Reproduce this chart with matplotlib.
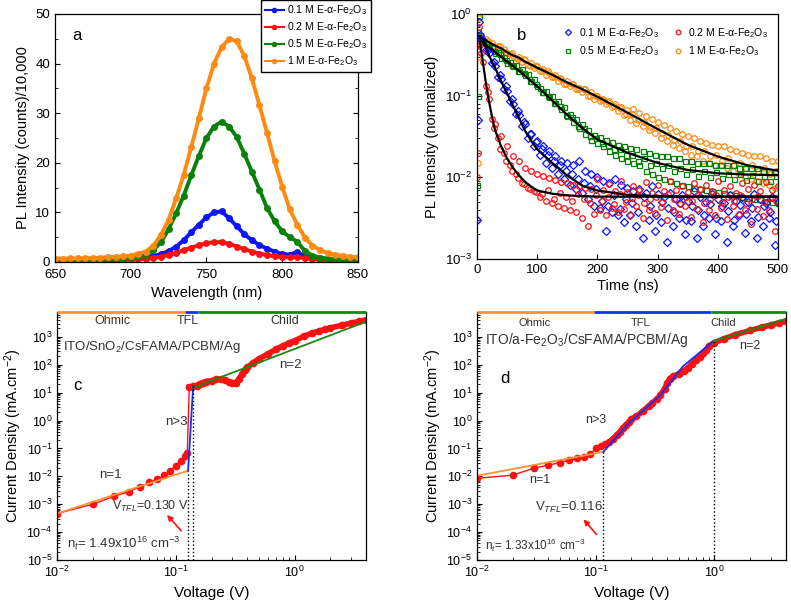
import numpy as np
import matplotlib.pyplot as plt
from matplotlib.ticker import LogLocator, MultipleLocator, NullFormatter

plt.rcParams['font.family'] = ['Liberation Sans', 'DejaVu Sans']
plt.rcParams['mathtext.fontset'] = 'custom'
plt.rcParams['mathtext.rm'] = 'Liberation Sans'
plt.rcParams['mathtext.it'] = 'Liberation Sans:italic'
plt.rcParams['mathtext.bf'] = 'Liberation Sans:bold'
plt.rcParams['xtick.direction'] = 'in'
plt.rcParams['ytick.direction'] = 'in'
plt.rcParams['axes.linewidth'] = 0.9

BLUE = '#0a14ff'
RED = '#ff1010'
GREEN = '#08800a'
ORANGE = '#ff8a12'

labels = ['0.1 M E-α-Fe$_2$O$_3$', '0.2 M E-α-Fe$_2$O$_3$',
          '0.5 M E-α-Fe$_2$O$_3$', '1 M E-α-Fe$_2$O$_3$']

# ---- panel a : steady state PL (counts / 10,000) ----
wavelength = np.arange(650, 851, 5)
pl_01 = [0.30, 0.30, 0.30, 0.32, 0.34, 0.36, 0.40, 0.44, 0.50, 0.58,
         0.70, 0.80, 0.95, 1.2, 1.6, 2.2, 3.1, 4.4, 6.0, 7.5,
         9.0, 10.0, 10.2, 8.8, 7.2, 5.6, 4.4, 3.4, 2.7, 2.1,
         1.6, 1.5, 2.0, 1.1, 0.8, 0.6, 0.5, 0.4, 0.4, 0.35, 0.35]
pl_02 = [0.20, 0.20, 0.20, 0.21, 0.22, 0.24, 0.26, 0.30, 0.34, 0.40,
         0.50, 0.55, 0.70, 0.85, 1.1, 1.4, 1.8, 2.4, 2.9, 3.4,
         3.8, 4.0, 4.0, 3.7, 3.1, 2.6, 2.1, 1.7, 1.4, 1.15,
         1.0, 0.95, 0.95, 0.8, 0.6, 0.5, 0.45, 0.4, 0.35, 0.3, 0.3]
pl_05 = [0.40, 0.40, 0.40, 0.42, 0.45, 0.50, 0.55, 0.62, 0.72, 0.85,
         1.0, 1.2, 1.5, 2.4, 4.0, 6.6, 9.8, 13.4, 17.5, 21.4,
         25.0, 27.3, 28.3, 27.3, 25.2, 21.8, 18.2, 14.6, 10.9, 8.2,
         6.2, 5.0, 4.1, 2.2, 1.3, 0.9, 0.7, 0.55, 0.5, 0.45, 0.45]
pl_1 = [0.70, 0.70, 0.72, 0.74, 0.77, 0.80, 0.86, 0.95, 1.05, 1.15,
        1.3, 1.7, 2.1, 3.3, 5.5, 8.5, 12.8, 17.6, 23.2, 29.0,
        35.0, 40.0, 43.3, 45.0, 44.5, 41.5, 37.0, 31.6, 26.0, 20.3,
        15.2, 10.6, 7.5, 4.9, 3.3, 2.4, 1.8, 1.45, 1.2, 1.05, 0.95]

# ---- panel b : TRPL, normalized ----
# first sweep: rising edge + every 5 ns
t_rise = [0, 1, 2, 3]
t_decay = list(range(5, 501, 5))
tr_01 = [0.003, 0.05, 0.5, 0.8,
         0.55, 0.48, 0.36, 0.33, 0.25, 0.23, 0.17, 0.16, 0.12, 0.115,
         0.085, 0.08, 0.06, 0.058, 0.042, 0.045, 0.030, 0.034, 0.024, 0.028,
         0.019, 0.024, 0.015, 0.021, 0.013, 0.018, 0.011, 0.016, 0.0095, 0.015,
         0.008, 0.014, 0.0072, 0.016, 0.0065, 0.012, 0.0055, 0.011, 0.0045, 0.010,
         0.0042, 0.009, 0.0022, 0.0085, 0.0038, 0.0095, 0.0035, 0.008, 0.0028, 0.0075,
         0.0035, 0.0068, 0.0025, 0.0072, 0.0018, 0.0065, 0.003, 0.0078, 0.0022, 0.0062,
         0.0028, 0.0058, 0.0016, 0.0065, 0.0025, 0.0055, 0.0032, 0.0060, 0.0020, 0.0052,
         0.0029, 0.0068, 0.0018, 0.0058, 0.0025, 0.0050, 0.0032, 0.0062, 0.0020, 0.0055,
         0.0029, 0.0048, 0.0016, 0.0060, 0.0025, 0.0052, 0.0035, 0.0058, 0.0021, 0.0050,
         0.0029, 0.0062, 0.0018, 0.0055, 0.0025, 0.0048, 0.0032, 0.0058, 0.0015, 0.0050]
tr_02 = [0.01, 0.02, 0.4, 0.7,
         0.42, 0.26, 0.13, 0.09, 0.052, 0.045, 0.030, 0.032, 0.020, 0.024,
         0.014, 0.018, 0.011, 0.016, 0.0085, 0.013, 0.0075, 0.012, 0.0068, 0.011,
         0.0058, 0.0105, 0.0052, 0.0098, 0.0048, 0.0092, 0.0045, 0.0088, 0.0042, 0.0085,
         0.0040, 0.0080, 0.0038, 0.0078, 0.0032, 0.0075, 0.0025, 0.0072, 0.0036, 0.0095,
         0.0040, 0.0070, 0.0035, 0.0082, 0.0042, 0.0068, 0.0038, 0.0090, 0.0041, 0.0066,
         0.0035, 0.0078, 0.0044, 0.0070, 0.0032, 0.0088, 0.0040, 0.0065, 0.0037, 0.0080,
         0.0043, 0.0068, 0.0030, 0.0090, 0.0040, 0.0070, 0.0036, 0.0078, 0.0045, 0.0066,
         0.0033, 0.0085, 0.0041, 0.0072, 0.0028, 0.0080, 0.0040, 0.0068, 0.0035, 0.0090,
         0.0042, 0.0070, 0.0031, 0.0078, 0.0045, 0.0065, 0.0036, 0.0085, 0.0040, 0.0072,
         0.0027, 0.0080, 0.0041, 0.0068, 0.0034, 0.0088, 0.0040, 0.0070, 0.0022, 0.0078]
tr_05 = [0.008, 0.1, 0.6, 0.95,
         0.55, 0.45, 0.44, 0.38, 0.39, 0.33, 0.34, 0.29, 0.30, 0.25,
         0.26, 0.23, 0.24, 0.20, 0.21, 0.18, 0.185, 0.15, 0.16, 0.13,
         0.125, 0.11, 0.115, 0.095, 0.10, 0.082, 0.085, 0.068, 0.072, 0.056,
         0.060, 0.048, 0.052, 0.040, 0.045, 0.034, 0.038, 0.029, 0.033, 0.026,
         0.031, 0.024, 0.029, 0.021, 0.027, 0.019, 0.025, 0.017, 0.024, 0.016,
         0.023, 0.015, 0.022, 0.014, 0.021, 0.012, 0.020, 0.011, 0.019, 0.010,
         0.018, 0.0095, 0.018, 0.009, 0.017, 0.0085, 0.017, 0.008, 0.016, 0.0078,
         0.016, 0.0075, 0.015, 0.0072, 0.015, 0.007, 0.015, 0.0068, 0.014, 0.0066,
         0.014, 0.0064, 0.014, 0.0062, 0.014, 0.006, 0.013, 0.0058, 0.013, 0.0056,
         0.013, 0.0055, 0.013, 0.0054, 0.012, 0.0052, 0.012, 0.005, 0.012, 0.0048]
tr_1 = [0.003, 0.015, 0.3, 0.9,
        0.52, 0.47, 0.49, 0.43, 0.44, 0.39, 0.40, 0.36, 0.37, 0.33,
        0.32, 0.31, 0.29, 0.30, 0.26, 0.27, 0.24, 0.25, 0.22, 0.23,
        0.20, 0.21, 0.18, 0.19, 0.17, 0.18, 0.15, 0.16, 0.14, 0.15,
        0.13, 0.14, 0.12, 0.125, 0.11, 0.12, 0.10, 0.11, 0.092, 0.10,
        0.085, 0.09, 0.078, 0.085, 0.072, 0.078, 0.065, 0.072, 0.058, 0.066,
        0.050, 0.068, 0.046, 0.062, 0.042, 0.057, 0.038, 0.052, 0.035, 0.048,
        0.030, 0.044, 0.028, 0.040, 0.025, 0.037, 0.023, 0.034, 0.021, 0.032,
        0.019, 0.030, 0.018, 0.028, 0.016, 0.026, 0.015, 0.025, 0.014, 0.024,
        0.014, 0.024, 0.013, 0.022, 0.012, 0.021, 0.011, 0.020, 0.010, 0.019,
        0.0095, 0.018, 0.009, 0.018, 0.0085, 0.017, 0.008, 0.016, 0.0075, 0.016]

# second sweep, offset by 2.5 ns, every 10 ns
t_mid = [7.5 + 10 * k for k in range(50)]
mid_01 = [0.50, 0.36, 0.26, 0.18, 0.13, 0.09, 0.065, 0.048, 0.034, 0.027,
          0.022, 0.019, 0.016, 0.014, 0.012, 0.011, 0.0095, 0.0085, 0.0078, 0.0072,
          0.0052, 0.0045, 0.0060, 0.0041, 0.0055, 0.0048, 0.0038, 0.0058, 0.0044, 0.0035,
          0.0050, 0.0042, 0.0038, 0.0048, 0.0030, 0.0045, 0.0040, 0.0035, 0.0047, 0.0032,
          0.0044, 0.0039, 0.0030, 0.0046, 0.0036, 0.0042, 0.0033, 0.0045, 0.0038, 0.0029]
mid_02 = [0.33, 0.11, 0.040, 0.022, 0.016, 0.012, 0.0098, 0.0082, 0.0072, 0.0066,
          0.0062, 0.0070, 0.0055, 0.0064, 0.0058, 0.0052, 0.0062, 0.0055, 0.0048, 0.0060,
          0.0052, 0.0058, 0.0047, 0.0062, 0.0050, 0.0056, 0.0060, 0.0049, 0.0054, 0.0058,
          0.0050, 0.0062, 0.0054, 0.0047, 0.0058, 0.0052, 0.0060, 0.0049, 0.0055, 0.0061,
          0.0050, 0.0057, 0.0052, 0.0060, 0.0048, 0.0055, 0.0059, 0.0050, 0.0056, 0.0052]
mid_05 = [0.47, 0.41, 0.35, 0.32, 0.27, 0.24, 0.20, 0.19, 0.15, 0.14,
          0.11, 0.10, 0.082, 0.074, 0.058, 0.054, 0.043, 0.040, 0.032, 0.030,
          0.026, 0.025, 0.022, 0.022, 0.019, 0.019, 0.016, 0.017, 0.014, 0.015,
          0.013, 0.014, 0.012, 0.013, 0.011, 0.0125, 0.0105, 0.012, 0.010, 0.0115,
          0.0098, 0.011, 0.0095, 0.011, 0.0092, 0.0108, 0.009, 0.0105, 0.009, 0.0105]
mid_1 = [0.50, 0.47, 0.41, 0.40, 0.34, 0.33, 0.28, 0.28, 0.23, 0.23,
         0.20, 0.20, 0.17, 0.165, 0.14, 0.14, 0.12, 0.12, 0.10, 0.10,
         0.088, 0.083, 0.074, 0.071, 0.060, 0.059, 0.050, 0.048, 0.041, 0.040,
         0.035, 0.033, 0.029, 0.028, 0.024, 0.024, 0.021, 0.021, 0.018, 0.019,
         0.016, 0.017, 0.014, 0.015, 0.013, 0.014, 0.012, 0.013, 0.011, 0.012]

# fitted decay curves
t_fit = [5, 10, 15, 20, 25, 30, 40, 50, 60, 70, 80, 90, 100, 125, 150, 175, 200,
         250, 300, 350, 400, 450, 500]
fit_01 = [0.54, 0.45, 0.38, 0.31, 0.26, 0.22, 0.15, 0.107, 0.075, 0.053, 0.037, 0.028,
          0.022, 0.015, 0.0105, 0.0079, 0.0069, 0.0061, 0.0059, 0.0058, 0.0058, 0.0058, 0.0058]
fit_02 = [0.45, 0.25, 0.14, 0.085, 0.055, 0.038, 0.024, 0.017, 0.013, 0.0105, 0.0088, 0.0077,
          0.0069, 0.0063, 0.006, 0.0059, 0.0058, 0.0058, 0.0058, 0.0058, 0.0058, 0.0058, 0.0058]
fit_05 = [0.5, 0.46, 0.42, 0.39, 0.37, 0.34, 0.30, 0.26, 0.23, 0.20, 0.175, 0.15, 0.13,
          0.087, 0.058, 0.040, 0.029, 0.020, 0.015, 0.0123, 0.0112, 0.0108, 0.0106]
fit_1 = [0.51, 0.49, 0.47, 0.45, 0.43, 0.41, 0.38, 0.34, 0.31, 0.29, 0.26, 0.24, 0.22,
         0.18, 0.145, 0.12, 0.097, 0.062, 0.039, 0.025, 0.018, 0.014, 0.012]

# ---- panel c : SCLC, ITO/SnO2 ----
c_v = [0.01, 0.02, 0.03, 0.04, 0.05, 0.06, 0.07, 0.08, 0.09, 0.10, 0.11, 0.12,
       0.125, 0.13, 0.14, 0.15, 0.16, 0.17, 0.18, 0.20, 0.22, 0.24, 0.26, 0.28,
       0.30, 0.32, 0.34, 0.36, 0.38, 0.40, 0.45, 0.50, 0.60, 0.70, 0.80, 0.90,
       1.0, 1.2, 1.4, 1.6, 1.8, 2.0, 2.5, 3.0, 3.5, 4.0]
c_j = [4.6e-4, 1.0e-3, 1.9e-3, 2.8e-3, 4.2e-3, 6.0e-3, 7.8e-3, 1.1e-2, 1.6e-2, 2.4e-2,
       3.6e-2, 5.5e-2, 7.0e-2, 16, 17, 18, 21, 23, 25, 27, 30, 31, 28, 24,
       22, 23, 30, 45, 65, 80, 120, 160, 250, 360, 480, 600,
       720, 1050, 1350, 1600, 1850, 2100, 2600, 3100, 3600, 4000]
c_ohm_v, c_ohm_j = [0.01, 0.127], [4.6e-4, 1.6e-2]
c_tfl_v, c_tfl_j = [0.127, 0.14], [1.6e-2, 17]
c_child_v, c_child_j = [0.14, 4.0], [15, 3500]
c_vtfl, c_vtop = [0.126, 0.139], [1.6e-2, 17]
c_regions = [0.01, 0.12, 0.153, 4.0]

# ---- panel d : SCLC, ITO/a-Fe2O3 ----
d_v = [0.01, 0.02, 0.03, 0.04, 0.05, 0.06, 0.07, 0.08, 0.09, 0.10, 0.11, 0.12, 0.13,
       0.14, 0.15, 0.16, 0.17, 0.18, 0.19, 0.20, 0.22, 0.25, 0.28, 0.30, 0.33, 0.35,
       0.38, 0.40, 0.42, 0.45, 0.50, 0.55, 0.60, 0.65, 0.70, 0.76, 0.80, 0.85, 0.90,
       1.0, 1.2, 1.5, 2.0, 2.5, 3.0, 3.5, 4.0]
d_j = [0.0085, 0.011, 0.0195, 0.025, 0.031, 0.038, 0.044, 0.050, 0.063, 0.10, 0.12,
       0.14, 0.17, 0.22, 0.30, 0.40, 0.55, 0.70, 0.90, 1.15, 1.4, 2.2, 3.3, 4.3, 6.0,
       8.0, 14, 22, 32, 38, 48, 60, 78, 110, 145, 195, 260, 350, 480, 620, 850, 1200,
       1700, 2200, 2700, 3200, 3600]
d_ohm_v, d_ohm_j = [0.01, 0.116], [0.0105, 0.075]
d_tfl_v, d_tfl_j = [0.116, 0.19, 0.35, 0.54, 0.98], [0.075, 0.8, 8, 86, 700]
d_child_v, d_child_j = [0.98, 4.0], [700, 4400]
d_vtfl, d_vtop = [0.116, 1.0], [0.075, 700]
d_regions = [0.01, 0.096, 0.93, 4.0]

FIT_OR = '#ff9236'
FIT_BL = '#1030ff'
FIT_GR = '#138a13'
TXT = '#333333'

fig = plt.figure(figsize=(7.91, 6.02), dpi=100)
ax_a = fig.add_axes([0.0695, 0.5648, 0.383, 0.412])
ax_b = fig.add_axes([0.603, 0.5698, 0.3805, 0.407])
ax_c = fig.add_axes([0.0721, 0.0698, 0.3906, 0.412])
ax_d = fig.add_axes([0.603, 0.0698, 0.3906, 0.412])

# panel a
for y, col, lab in zip([pl_01, pl_02, pl_05, pl_1], [BLUE, RED, GREEN, ORANGE], labels):
    ax_a.plot(wavelength, y, '-o', color=col, ms=5, lw=2.8, mew=0, label=lab)
ax_a.set_xlim(650, 850)
ax_a.set_ylim(0, 50)
ax_a.xaxis.set_major_locator(MultipleLocator(50))
ax_a.yaxis.set_major_locator(MultipleLocator(10))
ax_a.yaxis.set_minor_locator(MultipleLocator(5))
ax_a.tick_params(which='both', right=True, labelsize=9.5)
ax_a.tick_params(axis='x', pad=5)
ax_a.set_xlabel('Wavelength (nm)', fontsize=10.5, labelpad=4)
ax_a.set_ylabel('PL Intensity (counts)/10,000', fontsize=10.5)
ax_a.text(0.073, 0.915, 'a', transform=ax_a.transAxes, fontsize=12, ha='center', va='center')
leg = ax_a.legend(loc='upper left', bbox_to_anchor=(261 / 791, 1.0), bbox_transform=fig.transFigure,
                  fancybox=False, edgecolor='black', fontsize=7.6, handlelength=1.8,
                  handletextpad=0.3, borderpad=0.35, labelspacing=0.3, borderaxespad=0,
                  framealpha=1)
for line in leg.get_lines():
    line.set_linewidth(1.5)
    line.set_markersize(4)

# panel b
t_all = t_rise + t_decay
ax_b.plot(t_all, tr_1, 'o', mfc='none', mec=ORANGE, ms=4, mew=0.9, label=labels[3])
ax_b.plot(t_mid, mid_1, 'o', mfc='none', mec=ORANGE, ms=4, mew=0.9)
ax_b.plot(t_all, tr_05, 's', mfc='none', mec=GREEN, ms=3.6, mew=0.9, label=labels[2])
ax_b.plot(t_mid, mid_05, 's', mfc='none', mec=GREEN, ms=3.6, mew=0.9)
ax_b.plot(t_all, tr_01, 'D', mfc='none', mec=BLUE, ms=3.6, mew=0.9, label=labels[0])
ax_b.plot(t_mid, mid_01, 'D', mfc='none', mec=BLUE, ms=3.6, mew=0.9)
ax_b.plot(t_all, tr_02, 'o', mfc='none', mec=RED, ms=4, mew=0.9, label=labels[1])
ax_b.plot(t_mid, mid_02, 'o', mfc='none', mec=RED, ms=4, mew=0.9)
for f in [fit_1, fit_05, fit_01, fit_02]:
    ax_b.plot(t_fit, f, '-', color='black', lw=1.6)
ax_b.set_yscale('log')
ax_b.set_xlim(0, 500)
ax_b.set_ylim(1e-3, 1)
ax_b.xaxis.set_major_locator(MultipleLocator(100))
ax_b.yaxis.set_minor_locator(LogLocator(base=10, subs=np.arange(2, 10), numticks=10))
ax_b.yaxis.set_minor_formatter(NullFormatter())
ax_b.tick_params(which='both', labelsize=9.5)
ax_b.set_xlabel('Time (ns)', fontsize=10.5, labelpad=2)
ax_b.set_ylabel('PL Intensity (normalized)', fontsize=10.5)
ax_b.text(0.148, 0.914, 'b', transform=ax_b.transAxes, fontsize=12, ha='center', va='center')
h, l = ax_b.get_legend_handles_labels()
order = [2, 1, 3, 0]
ax_b.legend([h[i] for i in order], [l[i] for i in order], ncol=2, loc='upper right',
            bbox_to_anchor=(1.0, 0.99), frameon=False, fontsize=7.6, handletextpad=0.4,
            columnspacing=1.2, labelspacing=0.45, handlelength=1.2, markerscale=0.85)


def sclc_panel(ax, v, j, ohm, tfl, child, vtfl, vtop, regions):
    v = np.array(v)
    j = np.array(j)
    ax.plot(v, j, '-', color=RED, lw=1.0)
    dense = v >= 0.13
    ax.plot(v[dense], j[dense], '-', color=RED, lw=4)
    ax.plot(v, j, 'o', color=RED, ms=5.5, mew=0)
    ax.plot(ohm[0], ohm[1], '-', color=FIT_OR, lw=1.3)
    ax.plot(tfl[0], tfl[1], '-', color=FIT_BL, lw=1.3)
    ax.plot(child[0], child[1], '-', color=FIT_GR, lw=1.3)
    for x, top in zip(vtfl, vtop):
        ax.plot([x, x], [1e-5, top], ':', color='black', lw=1.0)
    # region bar in place of the top spine
    ax.spines['top'].set_visible(False)
    for k, col in enumerate([FIT_OR, FIT_BL, FIT_GR]):
        ax.plot(regions[k:k + 2], [1, 1], color=col, lw=2.0, zorder=5,
                transform=ax.get_xaxis_transform(), clip_on=False, solid_capstyle='butt')
    ax.set_xscale('log')
    ax.set_yscale('log')
    ax.set_xlim(0.01, 4.0)
    ax.set_ylim(1e-5, 7.8e3)
    ax.yaxis.set_major_locator(LogLocator(base=10, numticks=20))
    ax.yaxis.set_minor_locator(LogLocator(base=10, subs=np.arange(2, 10), numticks=20))
    ax.yaxis.set_minor_formatter(NullFormatter())
    ax.xaxis.set_minor_formatter(NullFormatter())
    ax.tick_params(which='both', labelsize=9)
    ax.set_xlabel('Voltage (V)', fontsize=11, labelpad=4)
    ax.set_ylabel('Current Density (mA.cm$^{-2}$)', fontsize=10.5, labelpad=2)


sclc_panel(ax_c, c_v, c_j, (c_ohm_v, c_ohm_j), (c_tfl_v, c_tfl_j), (c_child_v, c_child_j),
           c_vtfl, c_vtop, c_regions)
sclc_panel(ax_d, d_v, d_j, (d_ohm_v, d_ohm_j), (d_tfl_v, d_tfl_j), (d_child_v, d_child_j),
           d_vtfl, d_vtop, d_regions)

# panel c text
tc = ax_c.transAxes
ax_c.text(0.178, 0.964, 'Ohmic', transform=tc, fontsize=9, ha='center', va='center', color=TXT)
ax_c.text(0.424, 0.964, 'TFL', transform=tc, fontsize=9, ha='center', va='center', color=TXT)
ax_c.text(0.738, 0.964, 'Child', transform=tc, fontsize=9, ha='center', va='center', color=TXT)
ax_c.text(0.019, 0.859, 'ITO/SnO$_2$/CsFAMA/PCBM/Ag', transform=tc, fontsize=9.5, ha='left', va='center', color=TXT)
ax_c.text(0.065, 0.702, 'c', transform=tc, fontsize=12, ha='center', va='center')
ax_c.text(0.754, 0.786, 'n=2', transform=tc, fontsize=9.5, ha='center', va='center', color=TXT)
ax_c.text(0.385, 0.556, 'n>3', transform=tc, fontsize=9.5, ha='center', va='center', color=TXT)
ax_c.text(0.172, 0.343, 'n=1', transform=tc, fontsize=9.5, ha='center', va='center', color=TXT)
ax_c.text(0.178, 0.214, 'V$_{TFL}$=0.130 V', transform=tc, fontsize=9, ha='left', va='center', color=TXT)
ax_c.text(0.032, 0.069, 'n$_t$= 1.49x10$^{16}$ cm$^{-3}$', transform=tc, fontsize=9.5, ha='left', va='center', color=TXT)
ax_c.annotate('', xy=(0.350, 0.190), xytext=(0.408, 0.109), xycoords=tc, textcoords=tc,
              arrowprops=dict(arrowstyle='-|>', color=RED, lw=1.2, mutation_scale=8))

# panel d text
td = ax_d.transAxes
ax_d.text(0.188, 0.957, 'Ohmic', transform=td, fontsize=8, ha='center', va='center', color=TXT)
ax_d.text(0.530, 0.957, 'TFL', transform=td, fontsize=8, ha='center', va='center', color=TXT)
ax_d.text(0.797, 0.957, 'Child', transform=td, fontsize=8, ha='center', va='center', color=TXT)
ax_d.text(0.026, 0.887, 'ITO/a-Fe$_2$O$_3$/CsFAMA/PCBM/Ag', transform=td, fontsize=10, ha='left', va='center', color=TXT)
ax_d.text(0.091, 0.733, 'd', transform=td, fontsize=12, ha='center', va='center')
ax_d.text(0.883, 0.863, 'n=2', transform=td, fontsize=9, ha='center', va='center', color=TXT)
ax_d.text(0.385, 0.565, 'n>3', transform=td, fontsize=9, ha='center', va='center', color=TXT)
ax_d.text(0.204, 0.323, 'n=1', transform=td, fontsize=9, ha='center', va='center', color=TXT)
ax_d.text(0.188, 0.21, 'V$_{TFL}$=0.116', transform=td, fontsize=9.5, ha='left', va='center', color=TXT)
ax_d.text(0.026, 0.06, 'n$_t$= 1.33x10$^{16}$ cm$^{-3}$', transform=td, fontsize=8.5, ha='left', va='center', color=TXT)
ax_d.annotate('', xy=(0.339, 0.172), xytext=(0.393, 0.094), xycoords=td, textcoords=td,
              arrowprops=dict(arrowstyle='-|>', color=RED, lw=1.2, mutation_scale=8))

fig.savefig('out.png', dpi=100)
